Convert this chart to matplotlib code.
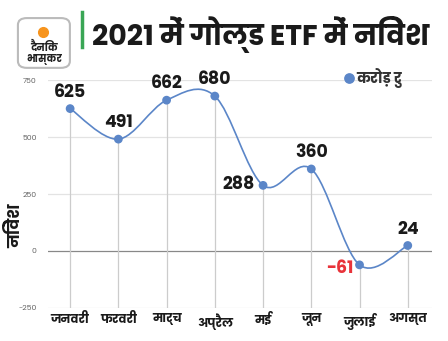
import matplotlib
matplotlib.use("Agg")
import matplotlib.pyplot as plt
from matplotlib import font_manager
from matplotlib.path import Path
from matplotlib.patches import PathPatch, FancyBboxPatch
import numpy as np

# data
months = ['जनवरी', 'फरवरी', 'मार्च', 'अप्रैल', 'मई', 'जून', 'जुलाई', 'अगस्त']
investment = [625, 491, 662, 680, 288, 360, -61, 24]
yticks = [-250, 0, 250, 500, 750]
title = '2021 में गोल्ड ETF में निवेश'
ylabel = 'निवेश'
legend_label = 'करोड़ रु'


# pick a devanagari font that also has a bold face
def pick_font(cands):
    for name in cands:
        try:
            path = font_manager.findfont(font_manager.FontProperties(family=name, weight='bold'),
                                         fallback_to_default=False)
            if 'bold' in path.lower():
                return name
        except Exception:
            pass
    return 'Noto Sans Devanagari'


hindi = pick_font(['Poppins', 'Mukta', 'Hind', 'Yantramanav', 'Noto Sans Devanagari'])
plt.rcParams['font.family'] = [hindi, 'Noto Sans Devanagari', 'DejaVu Sans']

line_color = '#5b86c8'
text_dark = '#1a1a1a'

fig = plt.figure(figsize=(4.48, 3.41), dpi=100)
ax = fig.add_axes([0.107, 0.097, 0.857, 0.668])

x = np.arange(len(months))
y = np.array(investment, dtype=float)

# smooth curve (catmull-rom as bezier segments)
verts = [(x[0], y[0])]
codes = [Path.MOVETO]
n = len(x)
for i in range(n - 1):
    p0 = y[i - 1] if i > 0 else y[i]
    p3 = y[i + 2] if i + 2 < n else y[i + 1]
    x0 = x[i - 1] if i > 0 else x[i]
    x3 = x[i + 2] if i + 2 < n else x[i + 1]
    c1 = (x[i] + (x[i + 1] - x0) / 6, y[i] + (y[i + 1] - p0) / 6)
    c2 = (x[i + 1] - (x3 - x[i]) / 6, y[i + 1] - (p3 - y[i]) / 6)
    verts += [c1, c2, (x[i + 1], y[i + 1])]
    codes += [Path.CURVE4] * 3
ax.add_patch(PathPatch(Path(verts, codes), facecolor='none', edgecolor=line_color, lw=1.2, zorder=3))

# drop lines
ax.vlines(x, -250, y, color='#cccccc', lw=0.9, zorder=1)
ax.scatter(x, y, s=40, color=line_color, zorder=4, edgecolors='none')

# data labels
for xi, yi in zip(x, y):
    if yi == 288:
        ax.annotate(f'{int(yi)}', (xi, yi), xytext=(-6, 0), textcoords='offset points',
                    ha='right', va='center', fontsize=12.5, fontweight='bold', color=text_dark)
    elif yi < 0:
        ax.annotate(f'{int(yi)}', (xi, yi), xytext=(-4, -3), textcoords='offset points',
                    ha='right', va='center', fontsize=12.5, fontweight='bold', color='#e8333a')
    else:
        ax.annotate(f'{int(yi)}', (xi, yi), xytext=(0, 5), textcoords='offset points',
                    ha='center', va='bottom', fontsize=12.5, fontweight='bold', color=text_dark)

ax.set_xlim(-0.46, 7.5)
ax.set_ylim(-250, 750)
ax.set_yticks(yticks)
ax.set_yticklabels([str(t) for t in yticks], fontsize=5.5, color='#666666')
ax.set_xticks(x)
ax.set_xticklabels(months, fontsize=8.8, fontweight='bold', color=text_dark)
ax.tick_params(length=0, pad=4)
ax.tick_params(axis='y', pad=8)
for t in yticks:
    ax.axhline(t, color='#888888' if t == 0 else '#e3e3e3', lw=0.9, zorder=0)
for s in ax.spines.values():
    s.set_visible(False)
ax.set_ylabel(ylabel, fontsize=12, fontweight='bold', color=text_dark)
ax.yaxis.set_label_coords(-0.06, 0.36)

# legend
ax.scatter([0.785], [1.01], s=45, color=line_color, transform=ax.transAxes, clip_on=False)
ax.text(0.803, 1.01, legend_label, transform=ax.transAxes, fontsize=10.5, fontweight='bold',
        color='#333333', va='center', ha='left')

# title and logo
fig.add_artist(FancyBboxPatch((0.040, 0.801), 0.116, 0.146, boxstyle='round,pad=0,rounding_size=0.02',
                              transform=fig.transFigure, facecolor='white', edgecolor='#bbbbbb', lw=1.5))
fig.add_artist(plt.Line2D([0.096], [0.906], marker='o', markersize=7, color='#f7941d', lw=0))
fig.text(0.098, 0.859, 'दैनिक', fontsize=7.3, fontweight='bold', color='#222222', ha='center', va='center')
fig.text(0.098, 0.826, 'भास्कर', fontsize=7.3, fontweight='bold', color='#222222', ha='center', va='center')
fig.add_artist(plt.Line2D([0.183, 0.183], [0.862, 0.965], color='#3aa655', lw=2.5))
fig.text(0.205, 0.9, title, fontsize=20.5, fontweight='bold', color=text_dark, ha='left', va='center')

fig.savefig('out.png', dpi=100)
